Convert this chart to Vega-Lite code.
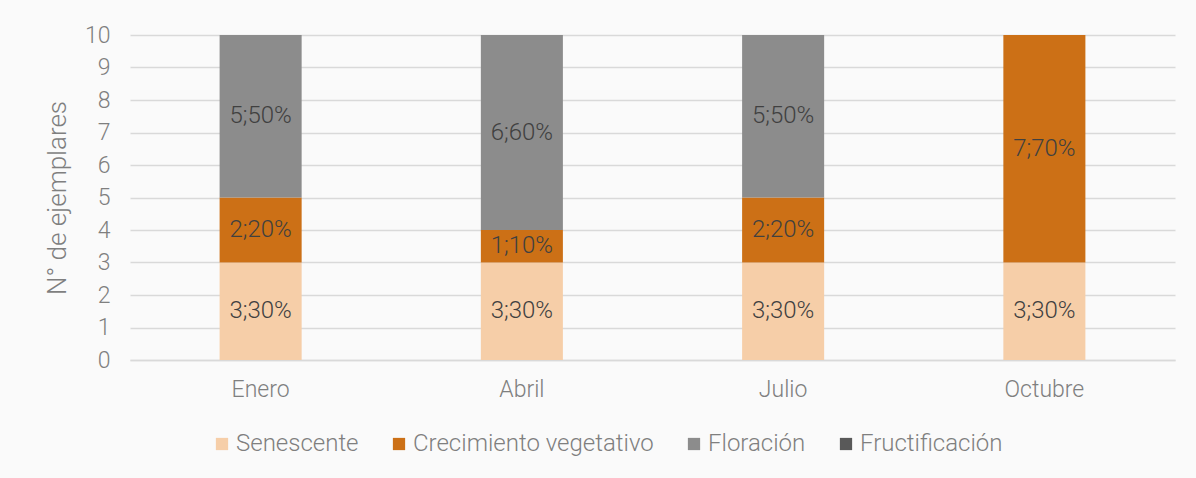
{
  "$schema": "https://vega.github.io/schema/vega-lite/v6.json",
  "width": 1045,
  "height": 325,
  "autosize": {"type": "none"},
  "padding": {"left": 130, "top": 35, "right": 21, "bottom": 118},
  "background": "#FAFAFA",
  "config": {
    "view": {"stroke": null},
    "axisY": {
      "values": [0, 1, 2, 3, 4, 5, 6, 7, 8, 9, 10],
      "labelOverlap": false,
      "domain": false,
      "ticks": false,
      "grid": true,
      "gridColor": "#D9D9D9",
      "gridWidth": 1.5,
      "labelPadding": 20,
      "labelFont": "Roboto",
      "labelFontWeight": 300,
      "labelFontSize": 23,
      "labelColor": "#7F7F7F",
      "titleFont": "Roboto",
      "titleFontWeight": 300,
      "titleFontSize": 26,
      "titleColor": "#7F7F7F",
      "titlePadding": 14
    }
  },
  "data": {
    "values": [
      {"mes": "Enero", "fase": "Senescente", "orden": 1, "n": 3, "etiqueta": "3;30%"},
      {"mes": "Enero", "fase": "Crecimiento vegetativo", "orden": 2, "n": 2, "etiqueta": "2;20%"},
      {"mes": "Enero", "fase": "Floración", "orden": 3, "n": 5, "etiqueta": "5;50%"},
      {"mes": "Enero", "fase": "Fructificación", "orden": 4, "n": 0, "etiqueta": ""},
      {"mes": "Abril", "fase": "Senescente", "orden": 1, "n": 3, "etiqueta": "3;30%"},
      {"mes": "Abril", "fase": "Crecimiento vegetativo", "orden": 2, "n": 1, "etiqueta": "1;10%"},
      {"mes": "Abril", "fase": "Floración", "orden": 3, "n": 6, "etiqueta": "6;60%"},
      {"mes": "Abril", "fase": "Fructificación", "orden": 4, "n": 0, "etiqueta": ""},
      {"mes": "Julio", "fase": "Senescente", "orden": 1, "n": 3, "etiqueta": "3;30%"},
      {"mes": "Julio", "fase": "Crecimiento vegetativo", "orden": 2, "n": 2, "etiqueta": "2;20%"},
      {"mes": "Julio", "fase": "Floración", "orden": 3, "n": 5, "etiqueta": "5;50%"},
      {"mes": "Julio", "fase": "Fructificación", "orden": 4, "n": 0, "etiqueta": ""},
      {"mes": "Octubre", "fase": "Senescente", "orden": 1, "n": 3, "etiqueta": "3;30%"},
      {"mes": "Octubre", "fase": "Crecimiento vegetativo", "orden": 2, "n": 7, "etiqueta": "7;70%"},
      {"mes": "Octubre", "fase": "Floración", "orden": 3, "n": 0, "etiqueta": ""},
      {"mes": "Octubre", "fase": "Fructificación", "orden": 4, "n": 0, "etiqueta": ""}
    ]
  },
  "transform": [
    {"stack": "n", "groupby": ["mes"], "sort": [{"field": "orden", "order": "ascending"}], "as": ["y0", "y1"]},
    {"calculate": "(datum.y0 + datum.y1) / 2", "as": "ymid"}
  ],
  "encoding": {
    "x": {
      "field": "mes",
      "type": "nominal",
      "sort": ["Enero", "Abril", "Julio", "Octubre"],
      "scale": {"paddingInner": 0.686, "paddingOuter": 0.343},
      "axis": {
        "title": null,
        "labelAngle": 0,
        "ticks": false,
        "domain": true,
        "domainColor": "#D9D9D9",
        "domainWidth": 1.5,
        "labelPadding": 18,
        "labelFont": "Roboto",
        "labelFontWeight": 300,
        "labelFontSize": 23,
        "labelColor": "#7F7F7F"
      }
    }
  },
  "layer": [
    {
      "mark": {"type": "bar"},
      "encoding": {
        "y": {
          "field": "y0",
          "type": "quantitative",
          "scale": {"domain": [0, 10]},
          "axis": {"title": "N° de ejemplares"}
        },
        "y2": {"field": "y1"},
        "color": {
          "field": "fase",
          "type": "nominal",
          "sort": ["Senescente", "Crecimiento vegetativo", "Floración", "Fructificación"],
          "scale": {
            "domain": ["Senescente", "Crecimiento vegetativo", "Floración", "Fructificación"],
            "range": ["#F6CEA8", "#CC7016", "#8C8C8C", "#595959"]
          },
          "legend": {
            "title": null,
            "orient": "none",
            "legendX": 80,
            "legendY": 397,
            "direction": "horizontal",
            "symbolType": "square",
            "symbolSize": 150,
            "symbolStrokeWidth": 0,
            "labelFont": "Roboto",
            "labelFontWeight": 300,
            "labelFontSize": 24,
            "labelLimit": 400,
            "labelColor": "#7F7F7F",
            "labelOffset": 2,
            "columnPadding": 28
          }
        }
      }
    },
    {
      "transform": [{"filter": "datum.n > 0"}],
      "mark": {"type": "text", "font": "Roboto", "fontWeight": 300, "fontSize": 24, "color": "#404040", "baseline": "middle"},
      "encoding": {
        "y": {"field": "ymid", "type": "quantitative", "axis": {"title": "N° de ejemplares"}},
        "text": {"field": "etiqueta"}
      }
    }
  ]
}
